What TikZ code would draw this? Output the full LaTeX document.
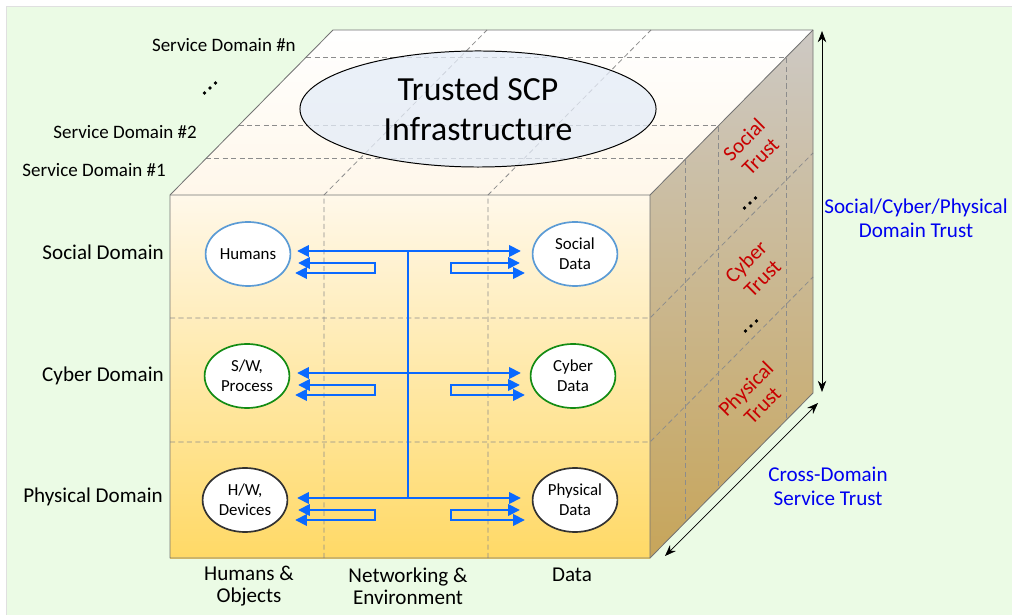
\documentclass[tikz,border=0pt]{standalone}
\usepackage{fontspec}
\setmainfont{Carlito}
\usetikzlibrary{arrows.meta,shapes.geometric,calc}

\definecolor{paneGreen}{RGB}{235,251,229}
\definecolor{frontTop}{RGB}{255,248,234}
\definecolor{frontBot}{RGB}{255,217,102}
\definecolor{topCream}{RGB}{255,247,234}
\definecolor{sideTop}{RGB}{205,201,196}
\definecolor{sideBot}{RGB}{199,165,90}
\definecolor{cloudBlue}{RGB}{228,236,248}
\definecolor{flowBlue}{RGB}{10,105,255}
\definecolor{trustRed}{RGB}{200,0,0}
\definecolor{labelBlue}{RGB}{0,0,240}
\definecolor{ovalBlue}{RGB}{91,155,213}
\definecolor{ovalGreen}{RGB}{20,140,20}
\definecolor{ovalDark}{RGB}{50,50,50}

\begin{document}
\begin{tikzpicture}[x=0.025cm,y=-0.025cm,
	cube edge/.style={draw=black!55,line width=0.6pt,line join=round},
	slice/.style={draw=black!45,line width=0.55pt,dash pattern=on 3.6pt off 2.4pt},
	infra/.style={ellipse,draw=black,line width=0.7pt,fill=cloudBlue,fill opacity=0.75,text opacity=1,minimum width=8.9cm,minimum height=2.9cm,inner sep=0pt,align=center,font=\fontsize{24}{29}\selectfont},
	oval/.style={ellipse,draw,line width=1.2pt,fill=white,minimum width=2.12cm,minimum height=1.6cm,inner sep=0pt,align=center,font=\fontsize{12}{14.2}\selectfont},
	flow/.style={draw=flowBlue,line width=2.1pt,line join=miter},
	flow tips/.style={{Triangle[length=8.5pt,width=8pt]}-{Triangle[length=8.5pt,width=8pt]}},
	gauge/.style={draw=black,line width=0.5pt,{Stealth[length=8pt,width=6pt]}-{Stealth[length=8pt,width=6pt]}},
	side label/.style={inner sep=0pt,align=center,font=\fontsize{15}{15.5}\selectfont},
	service label/.style={inner sep=0pt,anchor=east,font=\fontsize{13.5}{15}\selectfont},
	trust label/.style={inner sep=0pt,align=center,rotate=45,text=trustRed,font=\fontsize{15}{16.5}\selectfont},
	blue label/.style={inner sep=0pt,align=center,text=labelBlue,font=\fontsize{15}{17}\selectfont}]

	\useasboundingbox (0,0) rectangle (1012,615);
	\fill[white] (0,0) rectangle (1012,615);
	\filldraw[fill=paneGreen,draw=black!12] (6,6) rectangle (1020,620);

	\coordinate (ftl) at (170,195); \coordinate (ftr) at (650,195);
	\coordinate (fbl) at (170,558); \coordinate (fbr) at (650,558);
	\coordinate (btl) at (333,30);  \coordinate (btr) at (813,30);
	\coordinate (bbr) at (813,393);

	\shade[top color=white,bottom color=topCream] (ftl) -- (btl) -- (btr) -- (ftr) -- cycle;
	\shade[top color=frontTop,bottom color=frontBot] (ftl) rectangle (fbr);
	\shade[top color=sideTop,bottom color=sideBot] (ftr) -- (btr) -- (bbr) -- (fbr) -- cycle;

	\foreach \f in {0.22,0.42,0.835}
		\draw[slice] ($(ftl)!\f!(btl)$) -- ($(ftr)!\f!(btr)$) -- ($(fbr)!\f!(bbr)$);
	\foreach \x in {324,488}
		\draw[slice] (\x,558) -- (\x,195) -- ++(163,-165);
	\foreach \y in {318,442}
		\draw[slice] (170,\y) -- (650,\y) -- ++(163,-165);

	\draw[cube edge] (ftl) -- (btl) -- (btr) -- (bbr) -- (fbr) -- (fbl) -- cycle;
	\draw[cube edge] (ftl) -- (ftr) -- (fbr) (ftr) -- (btr);

	\node[infra] (scp) at (478,109) {Trusted SCP\\Infrastructure};

	\node[oval,draw=ovalBlue]  (hum)  at (248,254) {Humans};
	\node[oval,draw=ovalBlue]  (sdat) at (575,254) {Social\\Data};
	\node[oval,draw=ovalGreen] (sw)   at (247,376) {S/W,\\Process};
	\node[oval,draw=ovalGreen] (cdat) at (573,376) {Cyber\\Data};
	\node[oval,draw=ovalDark]  (hw)   at (245,500) {H/W,\\Devices};
	\node[oval,draw=ovalDark]  (pdat) at (575,500) {Physical\\Data};

	\foreach \row/\y in {soc/251,cyb/373,phy/498}{
		\coordinate (\row-l) at (297,\y);
		\coordinate (\row-r) at (521,\y);
		\coordinate (\row-t) at (408,\y);
		\draw[flow,flow tips] (\row-l) -- (\row-r);
		\draw[flow,flow tips] (298,\y+12) -- (375,\y+12) -- (375,\y+22) -- (295,\y+22);
		\draw[flow,flow tips] (520,\y+12) -- (451,\y+12) -- (451,\y+22) -- (525,\y+22);
	}
	\draw[flow] (soc-t) -- (phy-t);

	\node[side label,anchor=east] (socDom) at (164,252) {Social Domain};
	\node[side label,anchor=east] (cybDom) at (164,376) {Cyber Domain};
	\node[side label,anchor=east] (phyDom) at (163,497) {Physical Domain};

	\node[service label] (svcN) at (296,45)  {Service Domain \#n};
	\node[service label] (svc2) at (197,132) {Service Domain \#2};
	\node[service label] (svc1) at (166,170) {Service Domain \#1};

	\node[side label] (humObj) at (249,586) {Humans \&\\Objects};
	\node[side label] (netEnv) at (408,586) {Networking \&\\Environment};
	\node[side label] (data)   at (572,575) {Data};

	\node[trust label] (socTrust) at (752,148) {Social\\Trust};
	\node[trust label] (cybTrust) at (754,270) {Cyber\\Trust};
	\node[trust label] (phyTrust) at (754,397) {Physical\\Trust};

	\foreach \c in {(210,88),(750,203),(751,326)}
		\foreach \k in {-1,0,1}
			\fill \c ++(\k*5.5,-\k*5) circle (1.9);

	\coordinate (gaugeTop) at (822,31);
	\coordinate (gaugeBot) at (822,392);
	\coordinate (gaugeNear) at (665,556);
	\coordinate (gaugeFar) at (818,403);
	\draw[gauge] (gaugeTop) -- (gaugeBot);
	\draw[gauge] (gaugeNear) -- (gaugeFar);

	\node[blue label] (domTrust) at (916,218) {Social/Cyber/Physical\\Domain Trust};
	\node[blue label] (crossTrust) at (828,486) {Cross-Domain\\Service Trust};
\end{tikzpicture}
\end{document}
